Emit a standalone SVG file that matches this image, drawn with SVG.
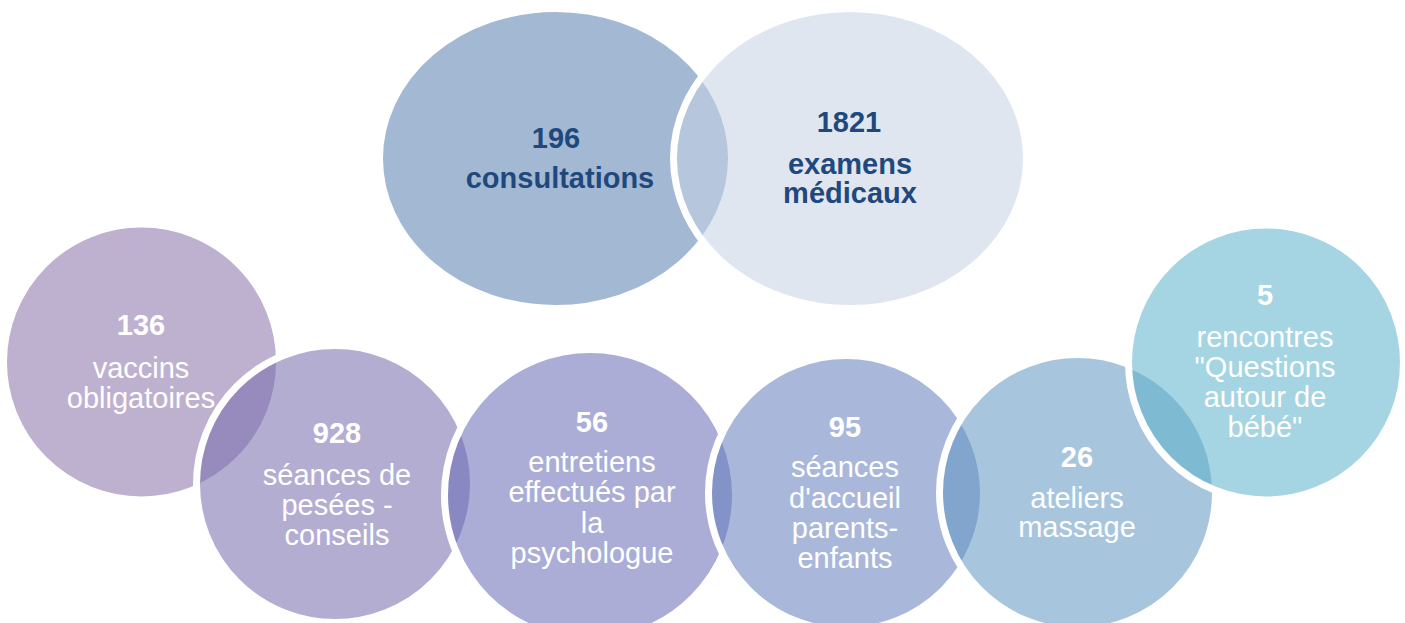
<svg xmlns="http://www.w3.org/2000/svg" width="1405" height="623" viewBox="0 0 1405 623">
<style>
.c{stroke:#ffffff;stroke-width:7;fill-opacity:0.55}
.t{font-family:"Liberation Sans",Arial,sans-serif;font-size:29px;text-anchor:middle}
.top{fill:#1F497D;font-weight:bold}
.w{fill:#ffffff}
.b{font-weight:bold}
</style>
<rect width="1405" height="623" fill="#ffffff"/>
<g id="connectors"/>
<g id="node-consultations">
<ellipse class="c" cx="555.5" cy="158.5" rx="176" ry="150" fill="#587EAF"/>
</g>
<g id="node-examens">
<ellipse class="c" cx="850" cy="158.5" rx="176.5" ry="150" fill="#C7D1E4"/>
</g>
<g id="node-vaccins">
<circle class="c" cx="141.5" cy="362" r="138" fill="#8971AA"/>
</g>
<g id="node-pesees">
<circle class="c" cx="335" cy="484" r="138.5" fill="#776AAD"/>
</g>
<g id="node-entretiens">
<circle class="c" cx="590" cy="495" r="145.5" fill="#666AB5"/>
</g>
<g id="node-accueil">
<circle class="c" cx="846" cy="493" r="137.5" fill="#637EBC"/>
</g>
<g id="node-ateliers">
<circle class="c" cx="1077.5" cy="492.5" r="138" fill="#6196C3"/>
</g>
<g id="node-rencontres">
<circle class="c" cx="1266" cy="362.5" r="137.5" fill="#5BB3CA"/>
</g>
<g id="labels">
<text class="t top" x="556" y="148">196</text>
<text class="t top" x="560" y="188">consultations</text>
<text class="t top" x="849" y="132">1821</text>
<text class="t top" x="850" y="174">examens</text>
<text class="t top" x="850" y="203">médicaux</text>

<text class="t w b" x="141" y="335">136</text>
<text class="t w" x="141" y="378">vaccins</text>
<text class="t w" x="141" y="408">obligatoires</text>

<text class="t w b" x="337" y="443">928</text>
<text class="t w" x="337" y="485">séances de</text>
<text class="t w" x="337" y="515">pesées -</text>
<text class="t w" x="337" y="545">conseils</text>

<text class="t w b" x="592" y="432">56</text>
<text class="t w" x="592" y="472">entretiens</text>
<text class="t w" x="592" y="502">effectués par</text>
<text class="t w" x="592" y="533">la</text>
<text class="t w" x="592" y="563">psychologue</text>

<text class="t w b" x="845" y="437">95</text>
<text class="t w" x="845" y="477">séances</text>
<text class="t w" x="845" y="508">d'accueil</text>
<text class="t w" x="845" y="538">parents-</text>
<text class="t w" x="845" y="568">enfants</text>

<text class="t w b" x="1077" y="467">26</text>
<text class="t w" x="1077" y="508">ateliers</text>
<text class="t w" x="1077" y="537">massage</text>

<text class="t w b" x="1265" y="305">5</text>
<text class="t w" x="1265" y="347">rencontres</text>
<text class="t w" x="1265" y="377">"Questions</text>
<text class="t w" x="1265" y="407">autour de</text>
<text class="t w" x="1265" y="437">bébé"</text>
</g>
</svg>
